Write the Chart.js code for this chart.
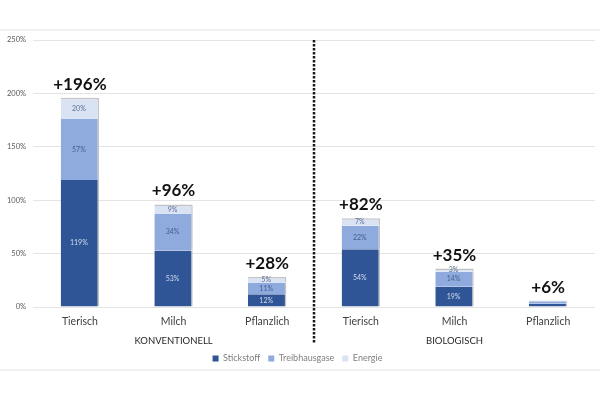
<!DOCTYPE html>
<html>
<head>
<meta charset="utf-8">
<script src="https://cdn.jsdelivr.net/npm/chart.js@4/dist/chart.umd.min.js"></script>
<style>
  html, body { margin: 0; padding: 0; background: #fff; }
  #wrap { width: 600px; height: 399px; }
</style>
</head>
<body>
<div id="wrap"><canvas id="bar_chart_impact"></canvas></div>
<script>
// data
var categories = ["Tierisch", "Milch", "Pflanzlich", "Tierisch", "Milch", "Pflanzlich"];
var groupLabels = ["", "KONVENTIONELL", "", "", "BIOLOGISCH", ""];
var stickstoff = [119, 53, 12, 54, 19, 3];
var treibhausgase = [57, 34, 11, 22, 14, 2.5];
var energie = [20, 9, 5, 7, 3, 0.5];
var totals = ["+196%", "+96%", "+28%", "+82%", "+35%", "+6%"];
var showSegmentLabels = [true, true, true, true, true, false];
var yTicks = [0, 50, 100, 150, 200, 250];

var fontFamily = "Lato, 'Open Sans', sans-serif";

// text in segments, totals above bars, group names, dotted divider, frame lines
var decorPlugin = {
  id: "decorPlugin",
  beforeDraw: function(chart) {
    var ctx = chart.ctx;
    ctx.save();
    ctx.strokeStyle = "#ececec";
    ctx.lineWidth = 1.5;
    ctx.beginPath();
    ctx.moveTo(0, 30); ctx.lineTo(chart.width, 30);
    ctx.moveTo(0, 370); ctx.lineTo(chart.width, 370);
    ctx.stroke();
    ctx.restore();
  },
  afterDatasetsDraw: function(chart) {
    var ctx = chart.ctx;
    var segColors = ["#d3dcee", "#3f5f98", "#5b6f96"];
    ctx.save();
    ctx.textAlign = "center";
    ctx.textBaseline = "middle";
    ctx.font = "7px " + fontFamily;
    for (var i = 0; i < 3; i++) {
      var meta = chart.getDatasetMeta(i);
      var values = chart.data.datasets[i].data;
      meta.data.forEach(function(bar, j) {
        if (!showSegmentLabels[j]) return;
        ctx.fillStyle = segColors[i];
        ctx.fillText(values[j] + "%", bar.x - 1, (bar.y + bar.base) / 2);
      });
    }

    // totals
    var topMeta = chart.getDatasetMeta(2);
    ctx.font = "bold 17px " + fontFamily;
    ctx.fillStyle = "#111";
    ctx.textBaseline = "alphabetic";
    topMeta.data.forEach(function(bar, j) {
      ctx.fillText(totals[j], bar.x, bar.y - 8);
    });

    // group names under the category labels
    var xs = chart.scales.x;
    ctx.font = "9.5px " + fontFamily;
    ctx.fillStyle = "#262626";
    ctx.textBaseline = "middle";
    groupLabels.forEach(function(g, j) {
      if (g) ctx.fillText(g, xs.getPixelForValue(j), 341);
    });

    // dotted divider between the two groups
    var xd = Math.round((xs.getPixelForValue(2) + xs.getPixelForValue(3)) / 2);
    ctx.strokeStyle = "#1a1a1a";
    ctx.lineWidth = 2.5;
    ctx.setLineDash([2.5, 1.5]);
    ctx.beginPath();
    ctx.moveTo(xd, chart.chartArea.top);
    ctx.lineTo(xd, 343);
    ctx.stroke();
    ctx.restore();
  }
};

function showChart() {
  var barBorder = "#c3c3c3";
  var config = {
    type: "bar",
    data: {
      labels: categories,
      datasets: [{
          label: "Stickstoff",
          data: stickstoff,
          backgroundColor: "#2f5597",
          borderColor: barBorder,
          borderWidth: { right: 1.5 },
          borderSkipped: false
        }, {
          label: "Treibhausgase",
          data: treibhausgase,
          backgroundColor: "#8faadc",
          borderColor: barBorder,
          borderWidth: { right: 1.5 },
          borderSkipped: false
        }, {
          label: "Energie",
          data: energie,
          backgroundColor: "#dae3f3",
          borderColor: barBorder,
          borderWidth: { right: 1.5, top: 1.5 },
          borderSkipped: false
        }]
    },
    options: {
      responsive: true,
      maintainAspectRatio: false,
      animation: false,
      layout: { padding: { top: 40, left: 0, right: 5, bottom: 26 } },
      datasets: { bar: { barPercentage: 0.41, categoryPercentage: 1 } },
      scales: {
        x: {
          stacked: true,
          grid: { display: false, drawTicks: false },
          border: { display: false },
          ticks: { color: "#404040", font: { family: fontFamily, size: 10.5 }, padding: 8 },
          afterFit: function(scale) { scale.height = 39; }
        },
        y: {
          stacked: true,
          min: yTicks[0],
          max: yTicks[yTicks.length - 1],
          afterBuildTicks: function(scale) {
            scale.ticks = yTicks.map(function(v) { return { value: v }; });
          },
          grid: { color: "#e4e4e4", lineWidth: 1, drawTicks: false },
          border: { display: false },
          ticks: {
            color: "#595959",
            font: { family: fontFamily, size: 7.5 },
            padding: 7,
            callback: function(v) { return v + "%"; }
          }
        }
      },
      plugins: {
        tooltip: { enabled: false },
        legend: {
          position: "bottom",
          labels: {
            color: "#7f7f7f",
            font: { family: fontFamily, size: 9 },
            boxWidth: 6,
            boxHeight: 6,
            padding: 8,
            generateLabels: function(chart) {
              return Chart.defaults.plugins.legend.labels.generateLabels(chart).map(function(l) {
                l.lineWidth = 0;
                return l;
              });
            }
          }
        }
      }
    },
    plugins: [decorPlugin]
  };

  new Chart(document.getElementById("bar_chart_impact").getContext("2d"), config);
}

document.addEventListener("DOMContentLoaded", showChart, false);
</script>
</body>
</html>
